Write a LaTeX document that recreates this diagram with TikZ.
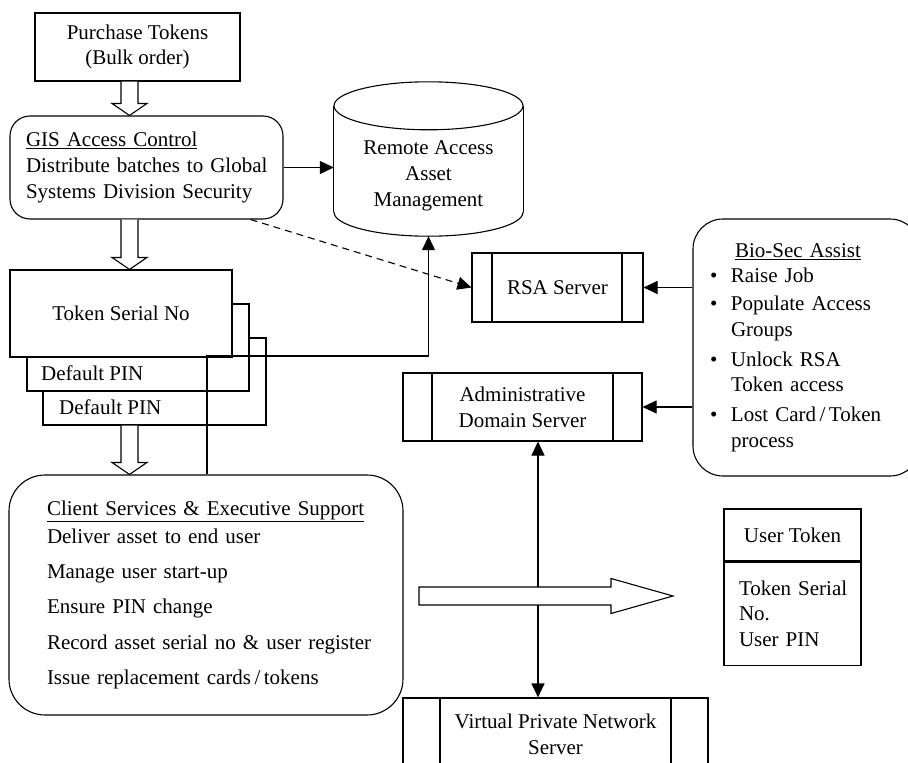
\documentclass[tikz,border=0pt]{standalone}
\usepackage{fontspec}
\setmainfont{Liberation Serif}
\usetikzlibrary{arrows.meta,calc}

% bullet item with a fixed-width bullet column
\newcommand\bitem[1]{\mbox{\makebox[21pt][l]{\textbullet}#1}}
% hollow block arrow pointing down: #1 start, #2 tip
\newcommand\hollowdown[2]{%
  \draw[hollow] let \p1=#1, \p2=#2 in
    (\x1-8.5pt,\y1) -- (\x1-8.5pt,\y2+12pt) -- (\x1-17.5pt,\y2+12pt) -- (\x1,\y2)
    -- (\x1+17.5pt,\y2+12pt) -- (\x1+8.5pt,\y2+12pt) -- (\x1+8.5pt,\y1);}
% hollow block arrow pointing right: #1 tail, #2 tip
\newcommand\hollowright[2]{%
  \draw[hollow] let \p1=#1, \p2=#2 in
    (\x1,\y1+9pt) -- (\x2-62pt,\y1+9pt) -- (\x2-62pt,\y1+17.5pt) -- (\x2,\y2)
    -- (\x2-62pt,\y1-17.5pt) -- (\x2-62pt,\y1-9pt) -- (\x1,\y1-9pt) -- cycle;}

\begin{document}
\begin{tikzpicture}[x=1pt,y=-1pt,
  every node/.style={font=\fontsize{21}{25.7}\selectfont},
  line/.style={line width=1.1pt},
  box/.style={draw, line width=1.1pt, fill=white, inner sep=0pt, align=center},
  rbox/.style={box, rounded corners=#1},
  plain/.style={inner sep=0pt},
  server/.style 2 args={box, path picture={
      \draw[line width=1.1pt] ([xshift=#1]path picture bounding box.north west)
        -- ([xshift=#1]path picture bounding box.south west);
      \draw[line width=1.1pt] ([xshift=-#2]path picture bounding box.north east)
        -- ([xshift=-#2]path picture bounding box.south east);}},
  arr/.style={line width=1.1pt, -{Triangle[length=14pt,width=13pt]}},
  darr/.style={line width=1.1pt, {Triangle[length=14pt,width=13pt]}-{Triangle[length=14pt,width=13pt]}},
  dasharr/.style={arr, dash pattern=on 7pt off 5pt},
  hollow/.style={draw, line width=1.1pt, fill=white, line join=miter}
]
\useasboundingbox (0,0) rectangle (908,763);
\clip (0,0) rectangle (908,763);
\fill[white] (0,0) rectangle (908,763);

% ---- left column ----
\node[box, minimum width=205, minimum height=68] (pt) at (137.5,47)
  {Purchase Tokens\\(Bulk order)};

\node[rbox=20pt, minimum width=273, minimum height=103, text width=241,
      inner xsep=16pt, align=left] (gis) at (146.5,167.5)
  {\mbox{\underline{GIS Access Control}}\\\mbox{Distribute batches to Global}\\
   \mbox{Systems Division Security}};

% stacked token cards, back to front
\node[box, minimum width=223, minimum height=87] (tok3) at (154.5,381.5) {};
\node[box, minimum width=222, minimum height=87] (tok2) at (138,347.5) {};
\node[box, minimum width=222, minimum height=87] (tok1) at (121,313.5) {Token Serial No};
\node[plain, anchor=base west] (pin2) at (41,380) {Default PIN};
\node[plain, anchor=base west] (pin3) at (59,414) {Default PIN};

\node[rbox=36pt, minimum width=394, minimum height=240, text width=318,
      inner xsep=38pt, align=left] (cs) at (206,595)
  {\mbox{\underline{Client Services \& Executive Support}}\\[2pt]
   \mbox{Deliver asset to end user}\\[9.5pt]
   \mbox{Manage user start-up}\\[9.5pt]
   \mbox{Ensure PIN change}\\[9.5pt]
   \mbox{Record asset serial no \& user register}\\[9.5pt]
   \mbox{Issue replacement cards\,/\,tokens}};

% ---- asset database (cylinder) ----
\node[minimum width=189, minimum height=120, inner sep=0pt, align=center] (ram) at (428.5,176)
  {Remote Access\\Asset\\Management};
\draw[line] ($(ram.north)+(0,-10)$) ellipse [x radius=94.5pt, y radius=24pt];
\draw[line] ($(ram.north west)+(0,-10)$) -- ($(ram.south west)+(0,-24)$);
\draw[line] ($(ram.north east)+(0,-10)$) -- ($(ram.south east)+(0,-24)$);
\begin{scope}
  \clip ($(ram.south west)+(-5,-24)$) rectangle ($(ram.south east)+(5,5)$);
  \draw[line] ($(ram.south)+(0,-24)$) ellipse [x radius=94.5pt, y radius=24pt];
\end{scope}

% ---- servers ----
\node[server={20pt}{21pt}, minimum width=171, minimum height=69] (rsa) at (557.5,287.5) {RSA Server};
\node[server={29pt}{29pt}, minimum width=239, minimum height=68] (adm) at (522.5,407)
  {Administrative\\Domain Server};
\node[server={37pt}{37pt}, minimum width=305, minimum height=72] (vpn) at (555.5,734)
  {Virtual Private Network\\Server};

% ---- support team ----
\node[rbox=30pt, minimum width=227, minimum height=257, text width=193,
      inner xsep=17pt, align=left] (bio) at (806.5,347.5)
  {\makebox[176pt]{\underline{Bio-Sec Assist}}\\
   \bitem{Raise Job}\\[2pt]
   \bitem{Populate Access}\\\hspace*{21pt}Groups\\[4pt]
   \bitem{Unlock RSA}\\\hspace*{21pt}\mbox{Token access}\\[4pt]
   \bitem{Lost Card\,/\,Token}\\\hspace*{21pt}process};

% ---- user token card ----
\node[box, minimum width=137, minimum height=52] (ut) at (792.5,535) {User Token};
\node[box, minimum width=137, minimum height=103, text width=107, inner xsep=15pt,
      align=left, anchor=north] (utb) at (ut.south) {\mbox{Token Serial}\\No.\\\mbox{User PIN}};

% ---- connectors ----
\coordinate (ax) at (129.5,0);
\hollowdown{(pt.south -| ax)}{(gis.north -| ax)}
\hollowdown{(gis.south -| ax)}{(tok1.north -| ax)}
\hollowdown{(tok3.south -| ax)}{(cs.north -| ax)}

\draw[arr] (gis.east) -- (gis.east -| ram.west);
\draw[dasharr] ([xshift=-33pt]gis.south east) -- (rsa.west);

\coordinate (jn) at (207,356);
\draw[arr] (cs.north -| jn) -- (jn) -| (ram.south);

\draw[arr] (bio.west |- rsa.east) -- (rsa.east);
\draw[arr] (bio.west |- adm.east) -- (adm.east);

\coordinate (vx) at (538,0);
\draw[darr] (adm.south -| vx) -- (vpn.north -| vx);

\coordinate (hs) at (419,596);
\coordinate (ht) at (673,596);
\hollowright{(hs)}{(ht)}
\end{tikzpicture}
\end{document}
